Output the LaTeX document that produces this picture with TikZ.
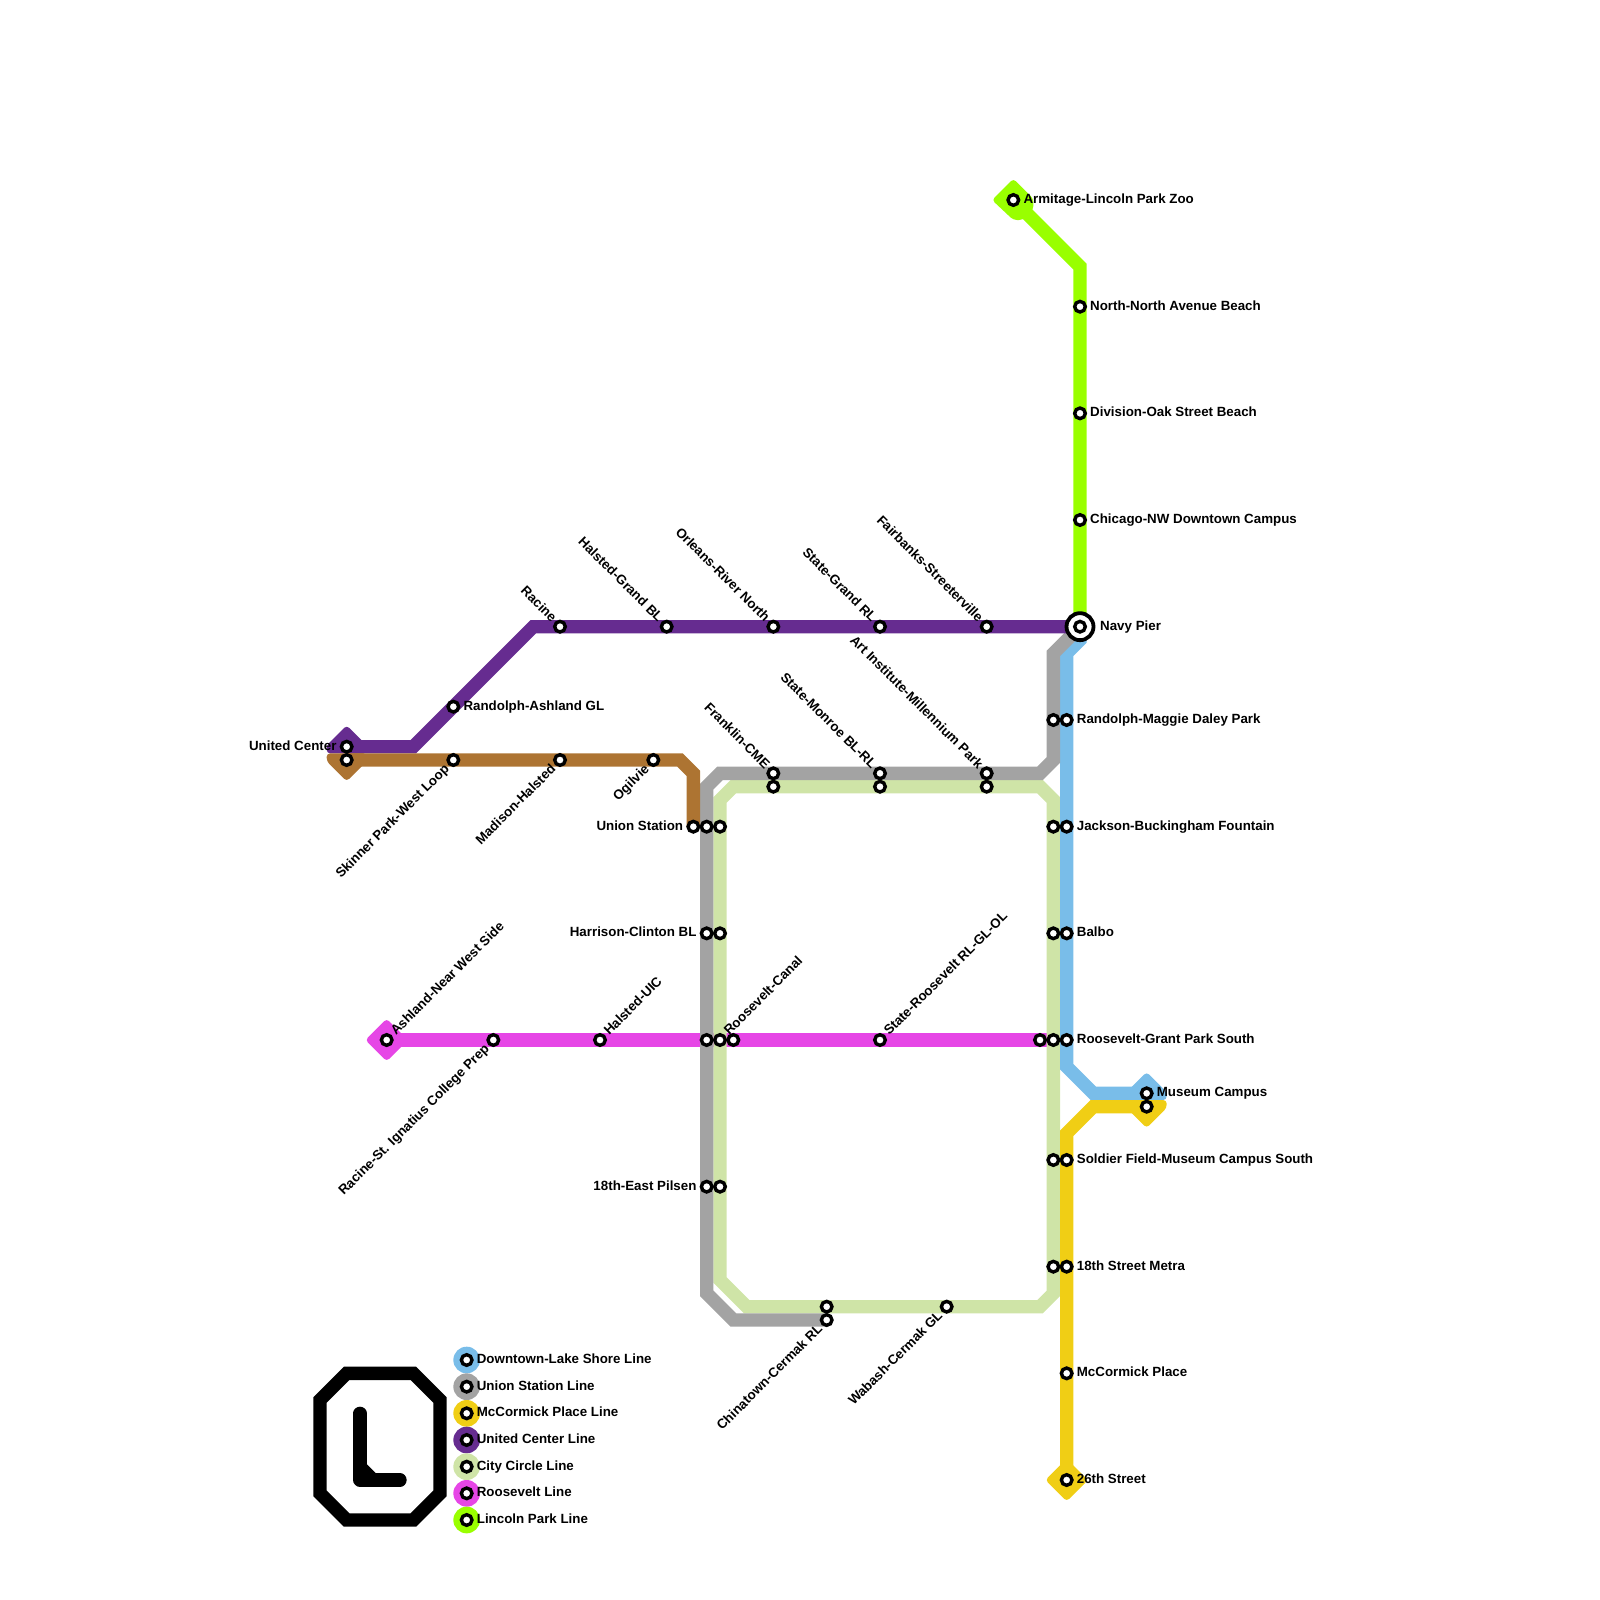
\documentclass[tikz,border=0pt]{standalone}
\usepackage{fontspec}
\setmainfont{Liberation Sans}
\usetikzlibrary{backgrounds}
\definecolor{cblue}{HTML}{79BDE9}
\definecolor{cgray}{HTML}{A3A3A3}
\definecolor{cyellow}{HTML}{F0CE15}
\definecolor{cpurple}{HTML}{662C90}
\definecolor{cgreen}{HTML}{CFE4A7}
\definecolor{cmag}{HTML}{E646E6}
\definecolor{clime}{HTML}{99FF00}
\definecolor{cbrown}{HTML}{AD7432}
\tikzset{
  x=13.3333pt,y=-13.3333pt,
  stn/.style={circle,draw=black,fill=white,line width=3.4pt,inner sep=0pt,minimum size=10.6pt},
  ring/.style={circle,draw=black,fill=white,line width=3.8pt,inner sep=0pt,minimum size=27pt},
  metro/.style={line width=13.3333pt,line join=miter,miter limit=4},
  term/.style={rounded corners=3.5pt},
  txt/.style={font=\bfseries\fontsize{13.33}{15}\selectfont,inner sep=0pt,text=black},
  lr/.style={txt,anchor=base west,xshift=10pt,yshift=-3.6pt},
  ll/.style={txt,anchor=base east,xshift=-10pt,yshift=-3.6pt},
  lul/.style={txt,anchor=base east,rotate=-45,xshift=-9pt,yshift=-3.5pt},
  ldl/.style={txt,anchor=base east,rotate=45,xshift=-9.3pt,yshift=-4.5pt},
  lur/.style={txt,anchor=base west,rotate=45,xshift=9.3pt,yshift=-3.7pt},
  dot/.style={circle,inner sep=0pt,minimum size=26.67pt},
}
\begin{document}
\begin{tikzpicture}
\path[use as bounding box] (0,0) rectangle (120,120);
% stations
\foreach \n/\a/\b in {armitage/76/15,northave/81/23,division/81/31,chicago/81/39,
 fairbanks/74/47,stategrand/66/47,orleans/58/47,halstedgrand/50/47,racine/42/47,
 ashlandgl/34/53,united/26/56,brownend/26/57,skinner/34/57,madison/42/57,ogilvie/49/57,
 unionb/52/62,uniong/53/62,unionc/54/62,harrg/53/70,harrc/54/70,rooseg/53/78,roosec/54/78,roosem/55/78,
 pilseng/53/89,pilsenc/54/89,franklg/58/58,franklc/58/59,monrog/66/58,monroc/66/59,artg/74/58,artc/74/59,
 maggieg/79/54,maggieb/80/54,jacksonc/79/62,jacksonb/80/62,balboc/79/70,balbob/80/70,
 grantm/78/78,grantc/79/78,grantb/80/78,museumb/86/82,museumy/86/83,soldierc/79/87,soldiery/80/87,
 metrac/79/95,metray/80/95,mccormick/80/103,street26/80/111,chinac/62/98,chinag/62/99,wabash/71/98,
 ashlandnw/29/78,ignatius/37/78,halstedu/45/78,stateroos/66/78}
 {\node[stn] (\n) at (\a,\b) {};}
\node[ring] (navyring) at (81,47) {};
\node[stn] (navy) at (81,47) {};
% bends
\foreach \n/\a/\b in {l1/81/20,p1/31/56,p2/40/47,br1/51/57,br2/52/58,
 g1/79/49,g2/79/57,g3/78/58,g4/54/58,g5/53/59,g6/53/97,g7/55/99,
 c1/78/59,c2/79/60,c3/79/97,c4/78/98,c5/56/98,c6/54/96,c7/54/60,c8/55/59,
 b1/81/48,b2/80/49,b3/80/80,b4/82/82,y1/82/83,y2/80/85}
 {\coordinate (\n) at (\a,\b);}
\begin{scope}[on background layer]
 % Roosevelt
 \draw[metro,cmag] (ashlandnw.center) -- (grantc.center);
 \fill[cmag,term,shift={(ashlandnw.center)}] (0,-1.6)--(1.6,0)--(0,1.6)--(-1.6,0)--cycle;
 % City Circle
 \draw[metro,cgreen] (c1) -- (c2) -- (c3) -- (c4) -- (c5) -- (c6) -- (c7) -- (c8) -- cycle;
 % Downtown-Lake Shore
 \draw[metro,cblue] (navy.center) -- (b1) -- (b2) -- (b3) -- (b4) -- (museumb.center);
 \fill[cblue,term,shift={(museumb.center)}] (0,-1.6)--(1.5,-.1)--(1.5,.5)--(-1.5,.5)--(-1.5,-.1)--cycle;
 % Union Station
 \draw[metro,cgray] (navy.center) -- (g1) -- (g2) -- (g3) -- (g4) -- (g5) -- (g6) -- (g7) -- (chinag.center);
 % McCormick
 \draw[metro,cyellow] (museumy.center) -- (y1) -- (y2) -- (street26.center);
 \fill[cyellow,term,shift={(museumy.center)}] (0,1.6)--(1.5,.1)--(1.5,-.5)--(-1.5,-.5)--(-1.5,.1)--cycle;
 \fill[cyellow,term,shift={(street26.center)}] (0,-1.6)--(1.6,0)--(0,1.6)--(-1.6,0)--cycle;
 % United Center
 \draw[metro,cpurple] (united.center) -- (p1) -- (p2) -- (navy.center);
 \fill[cpurple,term,shift={(united.center)}] (0,-1.6)--(1.5,-.1)--(1.5,.5)--(-1.5,.5)--(-1.5,-.1)--cycle;
 % brown
 \draw[metro,cbrown] (brownend.center) -- (br1) -- (br2) -- (unionb.center);
 \fill[cbrown,term,shift={(brownend.center)}] (0,1.6)--(1.5,.1)--(1.5,-.5)--(-1.5,-.5)--(-1.5,.1)--cycle;
 % Lincoln Park
 \draw[metro,clime] (armitage.center) -- (l1) -- (northave.center) -- (navy.center);
 \fill[clime,term,shift={(armitage.center)}] (0,-1.6)--(1.5,-.1)--(1.5,.7)--(.7,1.5)--(0,1.5)--(-1.6,0)--cycle;
\end{scope}
% labels, right
\node[lr] (t1) at (armitage.center) {Armitage-Lincoln Park Zoo};
\node[lr] (t2) at (northave.center) {North-North Avenue Beach};
\node[lr] (t3) at (division.center) {Division-Oak Street Beach};
\node[lr] (t4) at (chicago.center) {Chicago-NW Downtown Campus};
\node[lr,xshift=10pt] (t5) at (navy.center) {Navy Pier};
\node[lr] (t6) at (maggieb.center) {Randolph-Maggie Daley Park};
\node[lr] (t7) at (jacksonb.center) {Jackson-Buckingham Fountain};
\node[lr] (t8) at (balbob.center) {Balbo};
\node[lr] (t9) at (grantb.center) {Roosevelt-Grant Park South};
\node[lr] (t10) at (museumb.center) {Museum Campus};
\node[lr] (t11) at (soldiery.center) {Soldier Field-Museum Campus South};
\node[lr] (t12) at (metray.center) {18th Street Metra};
\node[lr] (t13) at (mccormick.center) {McCormick Place};
\node[lr] (t14) at (street26.center) {26th Street};
\node[lr] (t15) at (ashlandgl.center) {Randolph-Ashland GL};
% left
\node[ll] (t16) at (united.center) {United Center};
\node[ll] (t17) at (unionb.center) {Union Station};
\node[ll] (t18) at (harrg.center) {Harrison-Clinton BL};
\node[ll] (t19) at (pilseng.center) {18th-East Pilsen};
% up left
\node[lul] (t20) at (racine.center) {Racine};
\node[lul] (t21) at (halstedgrand.center) {Halsted-Grand BL};
\node[lul] (t22) at (orleans.center) {Orleans-River North};
\node[lul] (t23) at (stategrand.center) {State-Grand RL};
\node[lul] (t24) at (fairbanks.center) {Fairbanks-Streeterville};
\node[lul] (t25) at (franklg.center) {Franklin-CME};
\node[lul] (t26) at (monrog.center) {State-Monroe BL-RL};
\node[lul] (t27) at (artg.center) {Art Institute-Millennium Park};
% down left
\node[ldl] (t28) at (skinner.center) {Skinner Park-West Loop};
\node[ldl] (t29) at (madison.center) {Madison-Halsted};
\node[ldl] (t30) at (ogilvie.center) {Ogilvie};
\node[ldl] (t31) at (ignatius.center) {Racine-St. Ignatius College Prep};
\node[ldl] (t32) at (chinag.center) {Chinatown-Cermak RL};
\node[ldl] (t33) at (wabash.center) {Wabash-Cermak GL};
% up right
\node[lur] (t34) at (ashlandnw.center) {Ashland-Near West Side};
\node[lur] (t35) at (halstedu.center) {Halsted-UIC};
\node[lur] (t36) at (roosec.center) {Roosevelt-Canal};
\node[lur] (t37) at (stateroos.center) {State-Roosevelt RL-GL-OL};
% logo
\coordinate (o1) at (26,103); \coordinate (o2) at (31,103); \coordinate (o3) at (33,105); \coordinate (o4) at (33,112);
\coordinate (o5) at (31,114); \coordinate (o6) at (26,114); \coordinate (o7) at (24,112); \coordinate (o8) at (24,105);
\draw[metro,black] (o1) -- (o2) -- (o3) -- (o4) -- (o5) -- (o6) -- (o7) -- (o8) -- cycle;
\coordinate (e1) at (27,106); \coordinate (e2) at (27,111); \coordinate (e3) at (30,111);
\coordinate (e4) at (27,110); \coordinate (e5) at (28,111);
\draw[metro,black,line cap=round,line join=round] (e1) -- (e2) -- (e3);
\draw[metro,black,line cap=round] (e4) -- (e5);
% legend
\foreach \n/\c/\b/\s in {a/cblue/102/Downtown-Lake Shore Line,b/cgray/104/Union Station Line,c/cyellow/106/McCormick Place Line,
 d/cpurple/108/United Center Line,e/cgreen/110/City Circle Line,f/cmag/112/Roosevelt Line,g/clime/114/Lincoln Park Line}{
 \node[dot,fill=\c] (lg\n) at (35,\b) {};
 \node[stn] (ls\n) at (35,\b) {};
 \node[lr] (lt\n) at (ls\n.center) {\s};
}
\end{tikzpicture}
\end{document}
